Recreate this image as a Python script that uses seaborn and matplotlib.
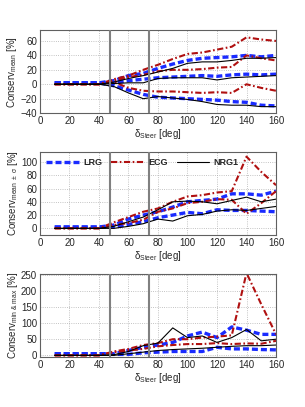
import numpy as np
import pandas as pd
import matplotlib
matplotlib.use('Agg')
import matplotlib.pyplot as plt
import seaborn as sns

sns.set_style('white')
plt.rcParams['font.family'] = ['Liberation Sans', 'DejaVu Sans']
plt.rcParams['mathtext.fontset'] = 'custom'
plt.rcParams['mathtext.rm'] = 'Liberation Sans'
plt.rcParams['mathtext.it'] = 'Liberation Sans:italic'
plt.rcParams['xtick.direction'] = 'in'
plt.rcParams['ytick.direction'] = 'in'

# steering angle
x = [10, 20, 30, 40, 50, 60, 70, 80, 90, 100, 110, 120, 130, 140, 150, 160]

# panel 1: mean
lrg_mean = [[2, 2, 2, 2, 5, 12, 15, 22, 28, 33, 36, 37, 38, 40, 38, 40],
            [2, 2, 2, 2, 2, 5, 7, 9, 10, 11, 12, 11, 13, 14, 13, 14],
            [2, 2, 2, 2, -2, -8, -14, -18, -19, -20, -21, -22, -24, -25, -29, -30]]
ecg_mean = [[0, 0, 0, 0, 7, 12, 20, 27, 35, 42, 44, 48, 52, 65, 62, 60],
            [0, 0, 0, 0, 5, 10, 13, 18, 20, 20, 21, 23, 24, 40, 36, 33],
            [0, 0, 0, 0, 3, -5, -9, -10, -10, -11, -12, -11, -12, 0, -5, -9]]
nrg_mean = [[0, 0, 0, 0, 3, 8, 12, 17, 22, 29, 31, 31, 33, 36, 36, 37],
            [0, 0, 0, 0, 1, 2, 2, 8, 9, 9, 9, 6, 9, 10, 11, 12],
            [0, 0, 0, 0, -3, -12, -20, -17, -19, -21, -24, -28, -29, -29, -31, -31]]

# panel 2: mean +/- sigma
lrg_sig = [[2, 2, 2, 2, 5, 14, 20, 25, 32, 40, 42, 44, 52, 52, 50, 56],
           [2, 2, 2, 2, 2, 6, 10, 16, 20, 24, 22, 28, 27, 27, 26, 25]]
ecg_sig = [[0, 0, 0, 0, 9, 17, 25, 30, 40, 48, 50, 54, 56, 108, 85, 65],
           [0, 0, 0, 0, 5, 8, 13, 25, 30, 38, 40, 44, 43, 22, 38, 56]]
nrg_sig = [[0, 0, 0, 0, 3, 10, 17, 28, 40, 41, 40, 37, 42, 47, 40, 44],
           [0, 0, 0, 0, 0, 3, 7, 14, 11, 19, 21, 26, 28, 27, 30, 33]]

# panel 3: min & max
lrg_mm = [[5, 5, 5, 5, 5, 15, 25, 32, 40, 60, 72, 55, 88, 78, 65, 65],
          [5, 5, 5, 5, 3, 3, 8, 10, 12, 12, 12, 25, 20, 20, 18, 17]]
ecg_mm = [[0, 0, 0, 0, 12, 20, 32, 38, 50, 50, 55, 58, 62, 255, 158, 65],
          [0, 0, 0, 0, 10, 15, 20, 28, 32, 35, 35, 38, 35, 37, 36, 45]]
nrg_mm = [[0, 0, 0, 0, 2, 12, 30, 38, 85, 55, 60, 40, 55, 80, 45, 50],
          [0, 0, 0, 0, 0, 5, 10, 15, 18, 20, 22, 25, 28, 30, 30, 32]]

steer_lines = [47.5, 74]

styles = {
    'LRG': dict(color='#1a2bff', linestyle=(0, (1.8, 0.9)), linewidth=2.4),
    'ECG': dict(color='#b01010', linestyle=(0, (3, 1.2, 0.8, 1.2)), linewidth=1.5),
    'NRG1': dict(color='black', linestyle='-', linewidth=0.8),
}

panels = [
    ({'LRG': lrg_mean, 'ECG': ecg_mean, 'NRG1': nrg_mean}, r'Conserv$_{\rm mean}$ [%]', (-40, 75), [-40, -20, 0, 20, 40, 60]),
    ({'LRG': lrg_sig, 'ECG': ecg_sig, 'NRG1': nrg_sig}, r'Conserv$_{\rm mean\ \pm\ \sigma}$ [%]', (-10, 115), [0, 20, 40, 60, 80, 100]),
    ({'LRG': lrg_mm, 'ECG': ecg_mm, 'NRG1': nrg_mm}, r'Conserv$_{\rm min\ &\ max}$ [%]', (-5, 252), [0, 50, 100, 150, 200, 250]),
]

fig = plt.figure(figsize=(3.05, 4.07), dpi=100)
bottoms = [0.722, 0.4226, 0.1229]

for i, (series, ylabel, ylim, yticks) in enumerate(panels):
    ax = fig.add_axes([0.131, bottoms[i], 0.774, 0.204])
    for name, lines in series.items():
        for j, vals in enumerate(lines):
            df = pd.DataFrame({'x': x, 'y': vals})
            sns.lineplot(data=df, x='x', y='y', ax=ax,
                         label=name if j == 0 else None, **styles[name])
    for v in steer_lines:
        ax.axvline(v, color='#808080', linewidth=1.5, zorder=5)
    ax.set_xlim(0, 160)
    ax.set_ylim(*ylim)
    ax.set_xticks(range(0, 161, 20))
    ax.set_yticks(yticks)
    ax.grid(True, linestyle=':', color='#b0b0b0', linewidth=0.6)
    ax.tick_params(labelsize=7, length=2, width=0.5, pad=2)
    for s in ax.spines.values():
        s.set_color('#606060')
        s.set_linewidth(0.8)
    ax.set_xlabel(r'δ$_{\rm Steer}$ [deg]', fontsize=7, labelpad=1)
    ax.set_ylabel(ylabel, fontsize=7, labelpad=1)
    if i == 1:
        leg = ax.legend(loc='upper left', ncol=3, frameon=False, fontsize=6.5,
                        handlelength=3.6, columnspacing=1.0, handletextpad=0.5,
                        borderaxespad=0.3)
        for t in leg.get_texts():
            t.set_fontweight('bold')
    else:
        if ax.get_legend() is not None:
            ax.get_legend().remove()

fig.savefig('out.png', dpi=100)
